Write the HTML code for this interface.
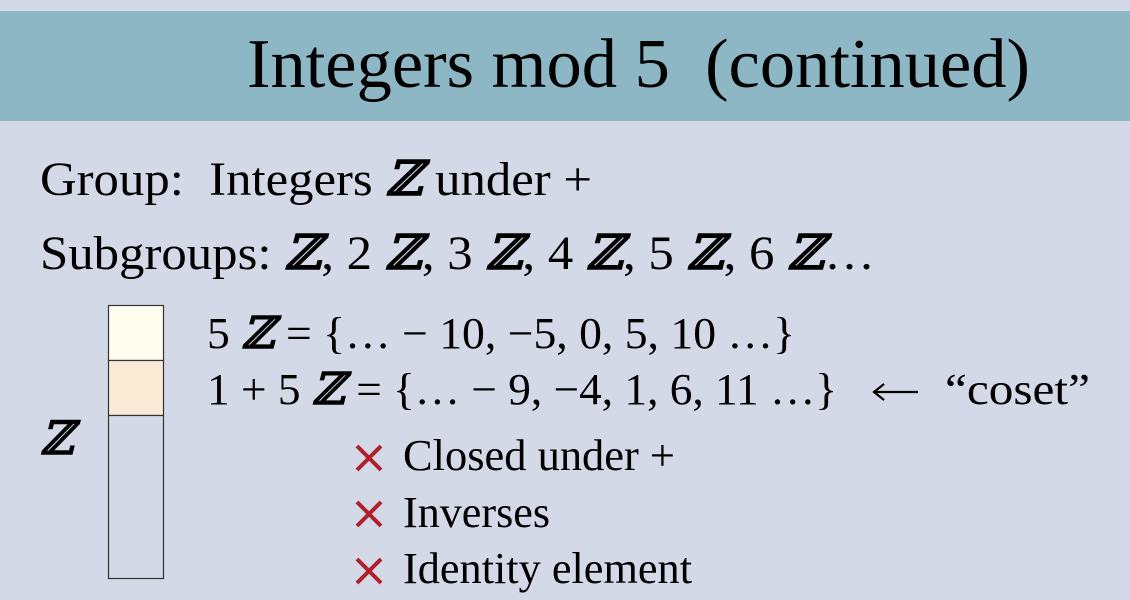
<!DOCTYPE html>
<html><head><meta charset="utf-8"><style>
html,body{margin:0;padding:0;background:#d3d9e6;}
svg{display:block}
text{font-family:"Liberation Serif",serif;fill:#000}
tspan.z{font-family:"DejaVu Serif",serif;font-style:italic;font-weight:bold}
</style></head><body>
<svg width="1130" height="600" viewBox="0 0 1130 600" xmlns="http://www.w3.org/2000/svg">
<rect x="0" y="0" width="1130" height="600" fill="#d3d9e6"/>
<rect x="0" y="11" width="1130" height="110" fill="#8db7c4"/>
<text x="247" y="87" font-size="70" textLength="783" lengthAdjust="spacingAndGlyphs" xml:space="preserve">Integers mod 5  (continued)</text>
<text x="40" y="195" font-size="48" textLength="552" lengthAdjust="spacingAndGlyphs" xml:space="preserve">Group:  Integers <tspan class="z">ℤ</tspan> under +</text>
<text x="40" y="269" font-size="48" textLength="835" lengthAdjust="spacingAndGlyphs">Subgroups: <tspan class="z">ℤ</tspan>, 2 <tspan class="z">ℤ</tspan>, 3 <tspan class="z">ℤ</tspan>, 4 <tspan class="z">ℤ</tspan>, 5 <tspan class="z">ℤ</tspan>, 6 <tspan class="z">ℤ</tspan>…</text>
<rect x="108.5" y="305.5" width="55" height="55" fill="#fdfdf0" stroke="#333" stroke-width="1.2"/>
<rect x="108.5" y="360.5" width="55" height="55" fill="#f9ead6" stroke="#333" stroke-width="1.2"/>
<rect x="108.5" y="415.5" width="55" height="163" fill="#d3d9e6" stroke="#333" stroke-width="1.2"/>
<text x="40" y="454" font-size="46"><tspan class="z">ℤ</tspan></text>
<text x="207" y="348" font-size="44" textLength="588" lengthAdjust="spacingAndGlyphs">5 <tspan class="z">ℤ</tspan> = {… − 10, −5, 0, 5, 10 …}</text>
<text x="207" y="404" font-size="44" textLength="630" lengthAdjust="spacingAndGlyphs">1 + 5 <tspan class="z">ℤ</tspan> = {… − 9, −4, 1, 6, 11 …}</text>
<g stroke="#000" stroke-width="2.2" fill="none">
<line x1="874" y1="392" x2="918" y2="392"/>
<path d="M884 384 L874 392 L884 400"/>
</g>
<text x="945" y="404" font-size="44" textLength="145" lengthAdjust="spacingAndGlyphs">“coset”</text>
<g stroke="#b0202a" stroke-width="4">
<line x1="357" y1="446" x2="381" y2="470"/><line x1="381" y1="446" x2="357" y2="470"/>
<line x1="357" y1="502" x2="381" y2="526"/><line x1="381" y1="502" x2="357" y2="526"/>
<line x1="357" y1="559" x2="381" y2="583"/><line x1="381" y1="559" x2="357" y2="583"/>
</g>
<text x="403" y="470" font-size="44" textLength="272" lengthAdjust="spacingAndGlyphs">Closed under +</text>
<text x="403" y="527" font-size="44" textLength="147" lengthAdjust="spacingAndGlyphs">Inverses</text>
<text x="403" y="583" font-size="44" textLength="289" lengthAdjust="spacingAndGlyphs">Identity element</text>
</svg>
</body></html>
